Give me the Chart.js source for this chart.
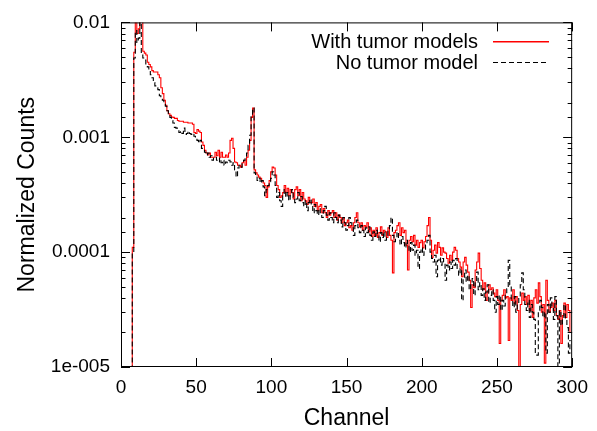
<!DOCTYPE html>
<html>
<head>
<meta charset="utf-8">
<script src="https://cdn.jsdelivr.net/npm/chart.js@4/dist/chart.umd.min.js"></script>
<style>
  html, body { margin: 0; padding: 0; background: #fff; }
  #wrap { width: 597px; height: 431px; }
</style>
</head>
<body>
<div id="wrap"><canvas id="myChart" width="597" height="431"></canvas></div>
<script>
// channel index = position in the arrays (0..299); null = no counts drawn, 1e-6 = zero counts below axis
const withTumor = [
  null, null, null, null, null, null, null, 1e-6, 1.1e-4, 5.5e-3,
  1.1e-2, 8.0e-3, 8.8e-3, 1.2e-2, 1.05e-2, 5.6e-3, 5.4e-3, 5.2e-3, 4.5e-3, 4.3e-3,
  4.1e-3, 3.8e-3, 3.7e-3, 3.7e-3, 3.7e-3, 3.5e-3, 3.3e-3, 2.7e-3, 2.4e-3, 2.1e-3,
  1.9e-3, 1.7e-3, 1.6e-3, 1.55e-3, 1.5e-3, 1.49e-3, 1.46e-3, 1.46e-3, 1.4e-3, 1.38e-3,
  1.38e-3, 1.38e-3, 1.35e-3, 1.35e-3, 1.35e-3, 1.33e-3, 1.33e-3, 1.33e-3, 1.3e-3, 1.1e-3,
  1.08e-3, 1.17e-3, 1.13e-3, 1.1e-3, 9.1e-4, 8.5e-4, 7.7e-4, 7.3e-4, 7.0e-4, 7.3e-4,
  6.7e-4, 6.7e-4, 6.7e-4, 7.4e-4, 6.9e-4, 7.7e-4, 6.7e-4, 7.4e-4, 6.7e-4, 6.7e-4,
  7.0e-4, 6.7e-4, 7.3e-4, 9.4e-4, 9.8e-4, 8.0e-4, 6.1e-4, 6.0e-4, 5.7e-4, 5.7e-4,
  5.5e-4, 6.0e-4, 6.3e-4, 5.7e-4, 6.7e-4, 7.7e-4, 9.4e-4, 1.49e-3, 1.8e-3, 5.2e-4,
  4.9e-4, 4.7e-4, 4.5e-4, 4.4e-4, 4.2e-4, 4.0e-4, 3.8e-4, 3.0e-4, 3.7e-4, 4.2e-4,
  5.0e-4, 5.5e-4, 5.4e-4, 4.7e-4, 3.8e-4, 3.5e-4, 3.0e-4, 3.1e-4, 3.3e-4, 3.8e-4,
  3.3e-4, 3.6e-4, 3.1e-4, 3.5e-4, 3.3e-4, 2.9e-4, 3.5e-4, 3.7e-4, 3.1e-4, 3.5e-4,
  2.8e-4, 3.3e-4, 2.9e-4, 2.8e-4, 2.6e-4, 3.0e-4, 2.7e-4, 2.7e-4, 2.9e-4, 2.5e-4,
  2.7e-4, 2.3e-4, 2.5e-4, 2.6e-4, 2.2e-4, 2.4e-4, 2.2e-4, 2.0e-4, 2.3e-4, 2.1e-4,
  2.2e-4, 2.3e-4, 2.0e-4, 2.2e-4, 1.9e-4, 2.1e-4, 2.0e-4, 1.8e-4, 2.0e-4, 1.7e-4,
  1.8e-4, 1.9e-4, 1.63e-4, 1.7e-4, 1.55e-4, 1.8e-4, 2.0e-4, 2.2e-4, 1.8e-4, 1.66e-4,
  1.8e-4, 1.55e-4, 1.7e-4, 1.66e-4, 1.8e-4, 1.5e-4, 1.63e-4, 1.37e-4, 1.55e-4, 1.4e-4,
  1.63e-4, 1.34e-4, 1.48e-4, 1.66e-4, 1.4e-4, 1.55e-4, 1.5e-4, 1.34e-4, 1.63e-4, 1.4e-4,
  1.27e-4, 6.6e-5, 1.48e-4, 1.55e-4, 1.7e-4, 1.8e-4, 1.4e-4, 1.63e-4, 1.48e-4, 1.55e-4,
  1.15e-4, 7.0e-5, 1.27e-4, 1.37e-4, 1.23e-4, 1.4e-4, 1.15e-4, 1.27e-4, 1.1e-4, 1.21e-4,
  1.27e-4, 1.09e-4, 1.23e-4, 1.37e-4, 1.7e-4, 2.0e-4, 1.27e-4, 9.0e-5, 1.04e-4, 1.15e-4,
  9.8e-5, 1.21e-4, 1.1e-4, 9.4e-5, 1.09e-4, 1.0e-4, 9.8e-5, 8.8e-5, 8.0e-5, 9.4e-5,
  8.5e-5, 1.0e-4, 1.1e-4, 1.04e-4, 8.8e-5, 8.2e-5, 7.4e-5, 6.1e-5, 8.2e-5, 9.0e-5,
  7.7e-5, 6.7e-5, 5.7e-5, 3.3e-5, 5.2e-5, 4.9e-5, 7.0e-5, 8.2e-5, 9.8e-5, 7.2e-5,
  5.7e-5, 4.7e-5, 5.4e-5, 3.8e-5, 4.5e-5, 5.2e-5, 4.7e-5, 4.9e-5, 4.4e-5, 4.1e-5,
  4.7e-5, 3.8e-5, 1.6e-5, 3.8e-5, 4.2e-5, 4.7e-5, 4.0e-5, 4.1e-5, 1.7e-5, 4.0e-5,
  3.8e-5, 4.7e-5, 3.6e-5, 4.1e-5, 3.1e-5, 8e-6, 3.5e-5, 4.4e-5, 3.8e-5, 4.1e-5,
  3.5e-5, 4.2e-5, 3.1e-5, 3.8e-5, 2.7e-5, 4.0e-5, 4.7e-5, 3.6e-5, 5.4e-5, 4.1e-5,
  3.0e-5, 3.5e-5, 1.08e-5, 5.7e-5, 3.8e-5, 3.0e-5, 3.3e-5, 3.6e-5, 3.1e-5, 3.8e-5,
  2.8e-5, 2.6e-5, 3.1e-5, 1.6e-5, 2.8e-5, 3.6e-5, 2.7e-5, 3.5e-5, 3.1e-5, 2.0e-5
];

const noTumor = [
  null, null, null, null, null, null, null, 1e-6, 1.0e-4, 4.9e-3,
  8.5e-3, 6.7e-3, 7.3e-3, 1.1e-2, 5.2e-3, 4.9e-3, 4.7e-3, 4.2e-3, 4.1e-3, 3.8e-3,
  3.5e-3, 3.3e-3, 3.0e-3, 2.8e-3, 2.7e-3, 2.6e-3, 2.3e-3, 2.2e-3, 2.1e-3, 2.0e-3,
  1.86e-3, 1.7e-3, 1.6e-3, 1.49e-3, 1.4e-3, 1.33e-3, 1.22e-3, 1.2e-3, 1.15e-3, 1.1e-3,
  1.13e-3, 1.08e-3, 1.2e-3, 1.06e-3, 1.08e-3, 1.13e-3, 1.08e-3, 1.06e-3, 1.08e-3, 1.02e-3,
  1.0e-3, 9.4e-4, 8.9e-4, 9.4e-4, 8.0e-4, 7.7e-4, 7.4e-4, 7.0e-4, 7.3e-4, 6.7e-4,
  6.9e-4, 6.3e-4, 6.6e-4, 6.7e-4, 6.3e-4, 6.1e-4, 6.6e-4, 6.0e-4, 6.3e-4, 5.7e-4,
  6.1e-4, 6.0e-4, 6.3e-4, 6.1e-4, 5.7e-4, 6.0e-4, 5.2e-4, 4.5e-4, 5.4e-4, 5.7e-4,
  5.5e-4, 6.0e-4, 6.3e-4, 6.7e-4, 7.3e-4, 8.5e-4, 1.04e-3, 1.55e-3, 1.8e-3, 4.9e-4,
  4.5e-4, 4.2e-4, 4.4e-4, 4.0e-4, 4.2e-4, 3.7e-4, 3.1e-4, 3.5e-4, 3.8e-4, 4.1e-4,
  4.4e-4, 5.0e-4, 4.7e-4, 3.8e-4, 3.0e-4, 3.3e-4, 2.8e-4, 2.5e-4, 3.1e-4, 3.5e-4,
  3.0e-4, 3.3e-4, 2.8e-4, 3.1e-4, 3.5e-4, 3.0e-4, 2.7e-4, 2.9e-4, 3.3e-4, 2.8e-4,
  3.05e-4, 2.7e-4, 2.5e-4, 2.8e-4, 2.3e-4, 2.7e-4, 2.9e-4, 2.6e-4, 2.2e-4, 2.6e-4,
  2.3e-4, 2.1e-4, 2.4e-4, 2.2e-4, 2.0e-4, 2.3e-4, 2.5e-4, 2.1e-4, 1.9e-4, 2.2e-4,
  2.0e-4, 1.8e-4, 2.2e-4, 2.0e-4, 1.8e-4, 2.1e-4, 1.9e-4, 1.66e-4, 2.0e-4, 1.8e-4,
  1.55e-4, 1.7e-4, 2.0e-4, 1.8e-4, 1.63e-4, 1.4e-4, 1.7e-4, 1.9e-4, 1.63e-4, 1.48e-4,
  1.7e-4, 1.55e-4, 1.37e-4, 1.63e-4, 1.48e-4, 1.66e-4, 1.4e-4, 1.27e-4, 1.5e-4, 1.37e-4,
  1.55e-4, 1.4e-4, 1.23e-4, 1.48e-4, 1.34e-4, 1.5e-4, 1.27e-4, 1.4e-4, 1.55e-4, 1.7e-4,
  2.0e-4, 1.4e-4, 1.23e-4, 1.34e-4, 1.5e-4, 1.27e-4, 1.15e-4, 1.37e-4, 1.21e-4, 1.09e-4,
  1.27e-4, 1.15e-4, 1.0e-4, 1.21e-4, 1.04e-4, 1.15e-4, 9.4e-5, 1.04e-4, 7.2e-5, 1.0e-4,
  1.09e-4, 9.4e-5, 1.04e-4, 1.15e-4, 1.27e-4, 1.4e-4, 1.0e-4, 8.8e-5, 8.2e-5, 9.4e-5,
  6.1e-5, 8.5e-5, 9.0e-5, 7.7e-5, 8.8e-5, 8.2e-5, 5.7e-5, 7.7e-5, 7.0e-5, 8.2e-5,
  7.2e-5, 8.5e-5, 7.7e-5, 8.8e-5, 7.0e-5, 6.3e-5, 7.2e-5, 3.8e-5, 5.9e-5, 7.0e-5,
  5.5e-5, 6.3e-5, 4.7e-5, 5.2e-5, 5.9e-5, 4.2e-5, 5.5e-5, 6.7e-5, 4.7e-5, 5.4e-5,
  4.2e-5, 4.8e-5, 3.8e-5, 4.5e-5, 5.2e-5, 3.6e-5, 4.2e-5, 4.7e-5, 3.8e-5, 3.0e-5,
  4.1e-5, 3.5e-5, 4.2e-5, 3.1e-5, 3.8e-5, 3.4e-5, 4.2e-5, 4.8e-5, 8.5e-5, 5.2e-5,
  3.8e-5, 3.3e-5, 4.1e-5, 3.0e-5, 3.6e-5, 4.0e-5, 5.2e-5, 6.6e-5, 4.7e-5, 3.5e-5,
  3.1e-5, 3.8e-5, 2.7e-5, 3.5e-5, 3.0e-5, 2.6e-5, 1.32e-5, 1.27e-5, 3.1e-5, 3.8e-5,
  3.3e-5, 2.7e-5, 3.0e-5, 1.32e-5, 3.5e-5, 3.0e-5, 4.0e-5, 3.3e-5, 2.6e-5, 4.1e-5,
  2.8e-5, 8e-6, 3.1e-5, 2.3e-5, 2.7e-5, 3.5e-5, 2.6e-5, 2.2e-5, 1.32e-5, 1.7e-5
];

const xTicks = [0, 50, 100, 150, 200, 250, 300];
const yTickValues = [1e-5, 1e-4, 1e-3, 1e-2];
const yTickLabels = ['1e-005', '0.0001', '0.001', '0.01'];
const seriesNames = ['With tumor models', 'No tumor model'];

(() => {
    'use strict';
    const canvas = document.getElementById('myChart');
    if (!canvas) {
        return;
    }
    const ctx = canvas.getContext('2d');
    const font = "'Liberation Sans', Arial, Helvetica, sans-serif";
    const toPoints = (arr) => arr.map((v, i) => ({ x: i, y: v }));

    const legendRows = [
        { text: seriesNames[0], color: 'rgb(255, 0, 0)', dash: null },
        { text: seriesNames[1], color: 'rgb(0, 0, 0)', dash: [5, 3] }
    ];

    // gnuplot-like frame, inward ticks and legend
    const gnuFrame = {
        id: 'gnuFrame',
        afterDatasetsDraw(chart) {
            const { ctx, chartArea: a, scales: { x, y } } = chart;
            ctx.save();
            ctx.strokeStyle = '#000';
            ctx.lineWidth = 1;
            ctx.setLineDash([]);
            ctx.beginPath();
            y.ticks.forEach(t => {
                const lg = Math.log10(t.value);
                const major = Math.abs(lg - Math.round(lg)) < 1e-6;
                const len = major ? 9 : 4.5;
                const py = Math.round(y.getPixelForValue(t.value)) + 0.5;
                ctx.moveTo(a.left, py);
                ctx.lineTo(a.left + len, py);
                ctx.moveTo(a.right, py);
                ctx.lineTo(a.right - len, py);
            });
            x.ticks.forEach(t => {
                const px = Math.round(x.getPixelForValue(t.value)) + 0.5;
                ctx.moveTo(px, a.bottom);
                ctx.lineTo(px, a.bottom - 9);
                ctx.moveTo(px, a.top);
                ctx.lineTo(px, a.top + 9);
            });
            ctx.stroke();
            ctx.strokeRect(a.left + 0.5, a.top + 0.5, a.right - a.left - 1, a.bottom - a.top - 1);
            ctx.restore();

            // legend
            legendRows.forEach((r, i) => {
                const ly = 41 + i * 21;
                ctx.save();
                ctx.font = '20px ' + font;
                ctx.textAlign = 'right';
                ctx.textBaseline = 'alphabetic';
                ctx.fillStyle = '#000';
                ctx.fillText(r.text, 478, ly + 6.5);
                if (r.dash) {
                    ctx.strokeStyle = r.color;
                    ctx.lineWidth = 1;
                    ctx.setLineDash(r.dash);
                    ctx.beginPath();
                    ctx.moveTo(493, ly + 0.5);
                    ctx.lineTo(549, ly + 0.5);
                    ctx.stroke();
                } else {
                    ctx.fillStyle = r.color;
                    ctx.fillRect(493, ly, 56, 1.5);
                }
                ctx.restore();
            });
        }
    };

    new Chart(ctx, {
        type: 'line',
        data: {
            datasets: [
                {
                    label: seriesNames[1],
                    data: toPoints(noTumor),
                    borderColor: '#000000',
                    borderWidth: 1.1,
                    borderDash: [5, 3],
                    stepped: 'middle',
                    pointRadius: 0,
                    fill: false,
                    order: 0
                },
                {
                    label: seriesNames[0],
                    data: toPoints(withTumor),
                    borderColor: '#ff0000',
                    borderWidth: 1.1,
                    stepped: 'middle',
                    pointRadius: 0,
                    fill: false,
                    order: 1
                }
            ]
        },
        options: {
            responsive: false,
            animation: false,
            events: [],
            layout: {
                padding: { top: 22, right: 24, left: 0, bottom: 0 }
            },
            plugins: {
                legend: { display: false },
                tooltip: { enabled: false }
            },
            scales: {
                x: {
                    type: 'linear',
                    min: 0,
                    max: 300,
                    afterBuildTicks: (scale) => {
                        scale.ticks = xTicks.map(v => ({ value: v }));
                    },
                    afterFit: (scale) => {
                        scale.height = 64;
                    },
                    grid: { display: false, drawTicks: false },
                    border: { display: false },
                    ticks: {
                        color: '#000',
                        padding: 9,
                        maxRotation: 0,
                        autoSkip: false,
                        font: { family: font, size: 19 }
                    },
                    title: {
                        display: true,
                        text: 'Channel',
                        color: '#000',
                        padding: { top: 0, bottom: 0 },
                        font: { family: font, size: 23, lineHeight: 1.05 }
                    }
                },
                y: {
                    type: 'logarithmic',
                    min: 1e-5,
                    max: 1e-2,
                    afterFit: (scale) => {
                        scale.width = 121;
                    },
                    grid: { display: false, drawTicks: false },
                    border: { display: false },
                    ticks: {
                        color: '#000',
                        padding: 11,
                        autoSkip: false,
                        font: { family: font, size: 19 },
                        callback: (v) => {
                            const i = yTickValues.findIndex(t => Math.abs(t - v) / t < 1e-6);
                            return i >= 0 ? yTickLabels[i] : '';
                        }
                    },
                    title: {
                        display: true,
                        text: 'Normalized Counts',
                        color: '#000',
                        padding: { top: 16, bottom: 0 },
                        font: { family: font, size: 23, lineHeight: 1.05 }
                    }
                }
            }
        },
        plugins: [gnuFrame]
    });
})();
</script>
</body>
</html>
